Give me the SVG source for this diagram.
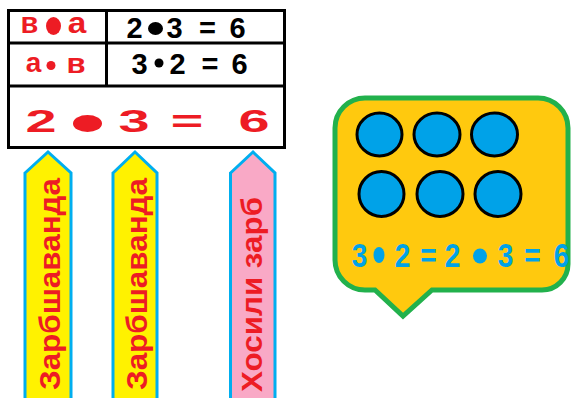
<svg xmlns="http://www.w3.org/2000/svg" width="571" height="398" viewBox="0 0 571 398">
<style>
.ln{stroke:#000;stroke-width:3;fill:none}
.red{fill:#ED1C24;font-family:"Liberation Sans",Arial,sans-serif;font-weight:bold;text-anchor:middle}
.blk{fill:#000;font-family:"Liberation Sans",Arial,sans-serif;font-weight:bold;text-anchor:middle;font-size:29px}
.arrow{stroke:#00AEEF;stroke-width:3}
.lbl{fill:#ED1C24;font-family:"Liberation Sans",Arial,sans-serif;font-weight:bold;font-size:30px}
.ball{fill:#00A2E8;stroke:#000;stroke-width:3}
.blue{fill:#00A2E8;font-family:"Liberation Sans",Arial,sans-serif;font-weight:bold;font-size:33px;text-anchor:middle}
</style>
<rect width="571" height="398" fill="#fff"/>
<g id="table">
  <rect class="ln" x="8.5" y="10.5" width="276" height="137"/>
  <line class="ln" x1="8.5" y1="43" x2="284.5" y2="43"/>
  <line class="ln" x1="8.5" y1="86" x2="284.5" y2="86"/>
  <line class="ln" x1="106.5" y1="10.5" x2="106.5" y2="86"/>
  <g id="row1-left">
    <text class="red" x="29.5" y="33" font-size="29">в</text>
    <ellipse cx="53.5" cy="26" rx="7.5" ry="9" fill="#ED1C24"/>
    <text class="red" font-size="29" transform="translate(77,33) scale(1.15,1)">а</text>
  </g>
  <g id="row2-left">
    <text class="red" x="33.5" y="72" font-size="28">а</text>
    <circle cx="51" cy="65.5" r="4.5" fill="#ED1C24"/>
    <text class="red" font-size="27" transform="translate(76,73) scale(1.15,1)">в</text>
  </g>
  <g id="row1-right">
    <text class="blk" x="134.5" y="38">2</text>
    <ellipse cx="155.5" cy="28.5" rx="7.5" ry="6.5" fill="#000"/>
    <text class="blk" x="174.5" y="38">3</text>
    <text class="blk" x="207.5" y="38">=</text>
    <text class="blk" x="237.5" y="38">6</text>
  </g>
  <g id="row2-right">
    <text class="blk" x="139.5" y="74">3</text>
    <circle cx="159" cy="63" r="4.5" fill="#000"/>
    <text class="blk" x="177.5" y="74">2</text>
    <text class="blk" x="210" y="74">=</text>
    <text class="blk" x="239.5" y="74">6</text>
  </g>
  <g id="row3">
    <text class="red" font-size="31" transform="translate(41,132) scale(1.8,1)">2</text>
    <ellipse cx="87.5" cy="123.5" rx="14.5" ry="8.5" fill="#ED1C24"/>
    <text class="red" font-size="31" transform="translate(134,132) scale(1.8,1)">3</text>
    <text class="red" font-size="31" transform="translate(187,132) scale(1.8,1)">=</text>
    <text class="red" font-size="31" transform="translate(254,132) scale(1.8,1)">6</text>
  </g>
</g>
<g id="connectors">
  <polygon id="arrow1" class="arrow" fill="#FFF200" points="25,173 48,152 71,173 71,402 25,402"/>
  <polygon id="arrow2" class="arrow" fill="#FFF200" points="113,173 135,152 157,173 157,402 113,402"/>
  <polygon id="arrow3" class="arrow" fill="#F9A9C6" points="230.5,173 253,152 275,173 275,402 230.5,402"/>
</g>
<g id="label1">
  <text class="lbl" transform="translate(60,390) rotate(-90)" textLength="212" lengthAdjust="spacingAndGlyphs">Зарбшаванда</text>
</g>
<g id="label2">
  <text class="lbl" transform="translate(147,390) rotate(-90)" textLength="212" lengthAdjust="spacingAndGlyphs">Зарбшаванда</text>
</g>
<g id="label3">
  <text class="lbl" font-size="31" transform="translate(262,392) rotate(-90)" textLength="195" lengthAdjust="spacingAndGlyphs">Хосили зарб</text>
</g>
<g id="bubble">
  <path d="M365 98 H538 A30 30 0 0 1 568 128 V264 A26 26 0 0 1 542 290 H432 L403 316 L375 290 H365 A30 30 0 0 1 335 260 V128 A30 30 0 0 1 365 98 Z" fill="#FFC90E" stroke="#22B14C" stroke-width="5" stroke-linejoin="miter"/>
  <ellipse class="ball" cx="379.5" cy="134.5" rx="22.5" ry="21.5"/>
  <ellipse class="ball" cx="437" cy="134.5" rx="23" ry="21.5"/>
  <ellipse class="ball" cx="494.5" cy="134.5" rx="23" ry="21.5"/>
  <ellipse class="ball" cx="381.5" cy="194" rx="22.5" ry="22.5"/>
  <ellipse class="ball" cx="440" cy="194" rx="23" ry="22.5"/>
  <ellipse class="ball" cx="498" cy="194" rx="23" ry="22.5"/>
  <g id="bubble-text">
    <text class="blue" transform="translate(359.5,267) scale(0.85,1)">3</text>
    <ellipse cx="379" cy="255" rx="5.5" ry="8" fill="#00A2E8"/>
    <text class="blue" transform="translate(402.5,267) scale(0.85,1)">2</text>
    <text class="blue" transform="translate(428.5,267) scale(0.85,1)">=</text>
    <text class="blue" transform="translate(452.5,267) scale(0.85,1)">2</text>
    <ellipse cx="480" cy="256" rx="7" ry="7.5" fill="#00A2E8"/>
    <text class="blue" transform="translate(505.5,267) scale(0.85,1)">3</text>
    <text class="blue" transform="translate(532.5,267) scale(0.85,1)">=</text>
    <text class="blue" transform="translate(561.5,267) scale(0.85,1)">6</text>
  </g>
</g>
</svg>
